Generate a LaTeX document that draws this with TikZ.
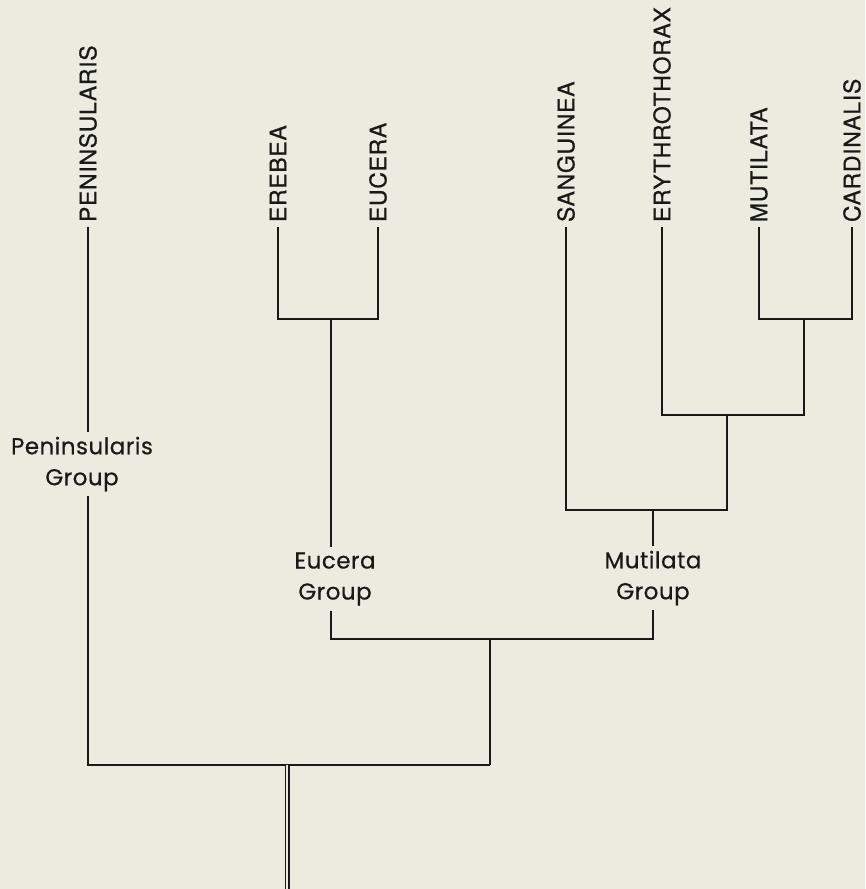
\documentclass[tikz,border=0pt]{standalone}
\usepackage{fontspec}
\setmainfont{TeX Gyre Heros}
\newfontfamily\leaffont[LetterSpace=3, FakeBold=0.6]{TeX Gyre Heros}
\newfontfamily\grpfont[LetterSpace=2, FakeBold=0.5]{Poppins}
\definecolor{paper}{RGB}{235,235,224}
\definecolor{ink}{RGB}{25,25,25}
\tikzset{
  branch/.style={draw=ink, line width=2.2pt},
  leaf/.style={rotate=90, anchor=west, inner sep=0pt, outer sep=5pt, text=ink, font=\leaffont\fontsize{23}{27}\selectfont},
  grp/.style={align=center, inner sep=5pt, text=ink, font=\grpfont\fontsize{23}{31}\selectfont}
}
\begin{document}
\begin{tikzpicture}[x=1pt, y=-1pt]
\fill[paper] (0,0) rectangle (865,889);
\useasboundingbox (0,0) rectangle (865,889);
\node[leaf] (peninsularis) at (88,227) {PENINSULARIS};
\node[leaf] (erebea) at (278,227) {EREBEA};
\node[leaf] (eucera) at (378,227) {EUCERA};
\node[leaf] (sanguinea) at (566,227) {SANGUINEA};
\node[leaf] (erythrothorax) at (662,227) {ERYTHROTHORAX};
\node[leaf] (mutilata) at (759,227) {MUTILATA};
\node[leaf] (cardinalis) at (852,227) {CARDINALIS};
\node[grp] (pengrp) at (82,464) {Peninsularis\\Group};
\node[grp] (eucgrp) at (335,579) {Eucera\\Group};
\node[grp] (mutgrp) at (653,578) {Mutilata\\Group};
\coordinate (ee) at (331,319);
\coordinate (mc) at (804,319);
\coordinate (ery) at (727,415);
\coordinate (san) at (653,510);
\coordinate (em) at (490,639);
\coordinate (base) at (490,765);
\coordinate (root) at (287,765);
\coordinate (stem) at (287,889);
\draw[branch] (erebea.west) |- (ee) -| (eucera.west);
\draw[branch] (mutilata.west) |- (mc) -| (cardinalis.west);
\draw[branch] (erythrothorax.west) |- (ery) -| (mc);
\draw[branch] (sanguinea.west) |- (san) -| (ery);
\draw[branch] (ee) -- (ee |- eucgrp.north);
\draw[branch] (san) -- (san |- mutgrp.north);
\draw[branch] (ee |- eucgrp.south) |- (em) -| (san |- mutgrp.south);
\draw[branch] (em) -- (base);
\draw[branch] (peninsularis.west) -- (peninsularis.west |- pengrp.north);
\draw[branch] (peninsularis.west |- pengrp.south) |- (base);
\draw[draw=ink, line width=1.6pt, double=paper, double distance=1.8pt] (root) -- (stem);
\end{tikzpicture}
\end{document}
